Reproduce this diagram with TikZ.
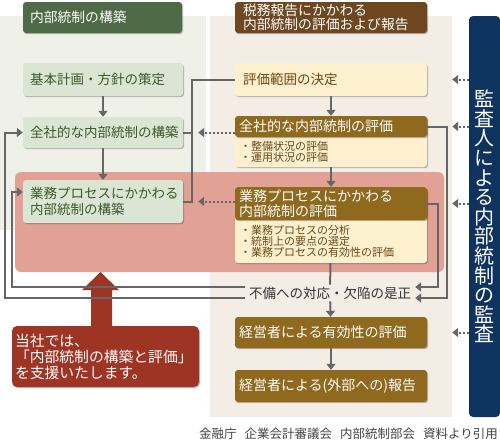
\documentclass[tikz,border=0pt]{standalone}
\usepackage{fontspec}
\setmainfont{Noto Sans CJK JP}
\usetikzlibrary{arrows.meta,positioning,shadows}

\definecolor{cPanelL}{HTML}{EFF1E9}
\definecolor{cPanelR}{HTML}{F3EDE6}
\definecolor{cHdrGreen}{HTML}{4F6A46}
\definecolor{cHdrBrown}{HTML}{6C4720}
\definecolor{cGreenBox}{HTML}{DBE5D3}
\definecolor{cGreenText}{HTML}{3B5A2C}
\definecolor{cCream}{HTML}{FDF0CF}
\definecolor{cCreamText}{HTML}{6B4A17}
\definecolor{cGold}{HTML}{8F691D}
\definecolor{cPink}{HTML}{E2A195}
\definecolor{cCallout}{HTML}{9E3524}
\definecolor{cNavy}{HTML}{0F335F}
\definecolor{cLine}{HTML}{666666}
\definecolor{cNote}{HTML}{444444}

\tikzset{
  box/.style={rectangle, rounded corners=3pt, inner ysep=0pt, align=left,
    drop shadow={shadow xshift=1pt, shadow yshift=-1.2pt, opacity=0.25, fill=black}},
  greenbox/.style={box, fill=cGreenBox, text=cGreenText,
    font=\fontsize{13.5}{15.5}\selectfont, text width=146pt, inner xsep=7pt},
  creambox/.style={box, fill=cCream, text=cCreamText,
    font=\fontsize{13.5}{15.5}\selectfont, text width=176pt, inner xsep=8pt},
  creambody/.style={box, fill=cCream, minimum width=192pt, inner sep=0pt},
  goldbox/.style={box, fill=cGold, text=white, drop shadow={opacity=0},
    font=\fontsize{14}{15}\selectfont, text width=184pt, inner xsep=4pt},
  hdrbox/.style={box, text=white, font=\fontsize{13.8}{13.5}\selectfont},
  bullets/.style={inner sep=0pt, align=left, text=cCreamText,
    font=\fontsize{11}{10.8}\selectfont},
  conn/.style={draw=cLine, line width=2pt},
  arrow/.style={conn, -{Triangle[width=9pt,length=6pt]}},
  dotarrow/.style={arrow, dash pattern=on 2pt off 2pt},
}

\begin{document}
\begin{tikzpicture}[x=1pt, y=-1pt]
\useasboundingbox (0,0) rectangle (500,442);

% panels
\fill[cPanelL] (0,16) rectangle (206,230);
\fill[cPanelR] (210,16) rectangle (452,417);
\fill[cPink, rounded corners=6pt] (15,172) rectangle (444,272);

% headers
\node[hdrbox, fill=cHdrGreen, text width=145pt, inner xsep=7pt, minimum height=31pt]
  (hdr_l) at (102.5,17.5) {内部統制の構築};
\node[hdrbox, fill=cHdrBrown, text width=176pt, inner xsep=8pt, minimum height=31pt]
  (hdr_r) at (331,17.5) {税務報告にかかわる\\内部統制の評価および報告};

% left column
\node[greenbox, minimum height=33pt] (kihon) at (103,79.5) {基本計画・方針の策定};
\node[greenbox, minimum height=31pt] (zensha_c) at (103,132.5) {全社的な内部統制の構築};
\node[greenbox, minimum height=43pt] (gyomu_c) at (103,201.5) {業務プロセスにかかわる\\内部統制の構築};

% right column
\node[creambox, minimum height=33pt] (hyoka_han) at (331,79.5) {評価範囲の決定};

\node[creambody, minimum height=51pt] (zensha_eb) at (331,141.5) {};
\node[goldbox, anchor=north, minimum height=21pt] (zensha_eh) at (zensha_eb.north) {全社的な内部統制の評価};
\node[bullets, anchor=north west] (zensha_el) at ([xshift=5pt,yshift=-4pt]zensha_eh.south west)
  {・整備状況の評価\\・運用状況の評価};

\node[creambody, minimum height=76pt] (gyomu_eb) at (331,225) {};
\node[goldbox, anchor=north, minimum height=33pt] (gyomu_eh) at (gyomu_eb.north) {業務プロセスにかかわる\\内部統制の評価};
\node[bullets, anchor=north west] (gyomu_el) at ([xshift=5pt,yshift=-5pt]gyomu_eh.south west)
  {・業務プロセスの分析\\・統制上の要点の選定\\・業務プロセスの有効性の評価};

\node[inner xsep=4pt, inner ysep=2pt, text=black!80, font=\fontsize{13.5}{15}\selectfont]
  (fubi) at (330,293) {不備への対応・欠陥の是正};

\node[goldbox, minimum height=31pt] (keiei_y) at (331,332.5) {経営者による有効性の評価};
\node[goldbox, minimum height=32pt] (keiei_h) at (331,386) {経営者による(外部への)報告};

% auditor column
\node[rectangle, rounded corners=4pt, fill=cNavy, text=white, minimum width=31pt,
  minimum height=401pt, align=center, font=\fontsize{20}{19.6}\selectfont]
  (kansa) at (484.5,216.5) {監\\査\\人\\に\\よ\\る\\内\\部\\統\\制\\の\\監\\査};

% callout
\fill[cCallout] (91,328) -- (91,290) -- (82,290) -- (100.5,272) -- (119,290) -- (112,290) -- (112,328) -- cycle;
\node[box, fill=cCallout, text=white, rounded corners=5pt, minimum height=61pt,
  text width=181pt, inner xsep=3pt, font=\fontsize{14.8}{16}\selectfont]
  (support) at (105.5,356.5) {当社では、\\「内部統制の構築と評価」\\を支援いたします。};

% source
\node[anchor=east, inner sep=0pt, text=cNote, font=\fontsize{12.5}{14}\selectfont]
  (src) at (498,434) {金融庁\hspace{8pt}企業会計審議会\hspace{8pt}内部統制部会\hspace{8pt}資料より引用};

% connectors
\draw[arrow] (kihon) -- (zensha_c);
\draw[arrow] (zensha_c) -- (gyomu_c);
\coordinate (brk) at (192,132.5);
\draw[conn] (hyoka_han.west) -| (brk) |- (gyomu_c.east);
\draw[conn] (brk) -- (zensha_c.east);
\draw[arrow] (hyoka_han) -- (zensha_eb);
\draw[arrow] (zensha_eb) -- (gyomu_eb);
\draw[conn] (gyomu_eb) -- (fubi);
\draw[arrow] (fubi) -- (keiei_y);
\draw[arrow] (keiei_y) -- (keiei_h);

\draw[dotarrow, shorten >=15pt] (zensha_eh.west |- zensha_c.east) -- (zensha_c.east);
\draw[dotarrow, shorten >=15pt] (gyomu_eh.west |- gyomu_c.east) -- (gyomu_c.east);
\foreach \tgt in {hyoka_han, zensha_eh, gyomu_eh, keiei_y}
  \draw[dotarrow, shorten >=25pt] (kansa.west |- \tgt.east) -- (\tgt.east);

\draw[arrow] (zensha_eh.east) -- ++(20,0) |- ([yshift=-5pt]fubi.east);
\draw[arrow] (gyomu_eh.east) -- ++(11,0) |- ([yshift=6pt]fubi.east);
\draw[arrow] ([yshift=6pt]fubi.west) -| ([xshift=-11pt,yshift=9.5pt]gyomu_c.west) -- ([yshift=9.5pt]gyomu_c.west);
\draw[arrow] ([yshift=-5pt]fubi.west) -| ([xshift=-18pt]zensha_c.west) -- (zensha_c.west);

\end{tikzpicture}
\end{document}
